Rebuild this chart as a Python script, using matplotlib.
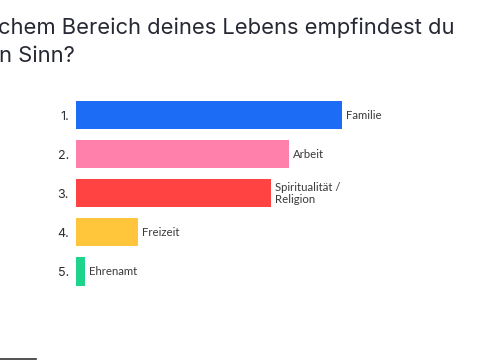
import matplotlib.pyplot as plt

# Poll results (Mentimeter style ranking)
ranks = ['1.', '2.', '3.', '4.', '5.']
answers = ['Familie', 'Arbeit', 'Spiritualität /\nReligion', 'Freizeit', 'Ehrenamt']
votes = [30, 24, 22, 7, 1]
colors = ['#1c6cf6', '#ff80aa', '#ff4242', '#ffc63c', '#1ed48c']

title_lines = ['chem Bereich deines Lebens empfindest du', 'n Sinn?']

W, H = 480, 360
fig = plt.figure(figsize=(W / 100, H / 100), dpi=100)

# axes placed in pixel terms: bars start at x=76, rows span y=95.5..291
px_per_vote = 266 / 30
ax_left, ax_right = 76, 476
ax_top, ax_bottom = 95.5, 291
ax = fig.add_axes([ax_left / W, 1 - ax_bottom / H,
                   (ax_right - ax_left) / W, (ax_bottom - ax_top) / H])

ypos = list(range(len(votes)))
ax.barh(ypos, votes, height=0.72, color=colors, align='center')
ax.set_xlim(0, (ax_right - ax_left) / px_per_vote)
ax.set_ylim(len(votes) - 0.5, -0.5)

ax.set_yticks(ypos)
ax.set_yticklabels(ranks, fontsize=9, color='#2b2b33', family='Inter')
ax.tick_params(axis='y', length=0, pad=5)
ax.set_xticks([])
for s in ax.spines.values():
    s.set_visible(False)

for y, v, lab in zip(ypos, votes, answers):
    ax.annotate(lab, xy=(v, y), xytext=(3, 0), textcoords='offset points',
                ha='left', va='center', fontsize=8.2, color='#3a3a3a',
                family='Lato', linespacing=1.1)

# title, cropped on the left like the screenshot
fig.text(-2 / W, 1 - 34 / H, title_lines[0], fontsize=15.8, color='#262833',
         family='Inter', ha='left', va='baseline')
fig.text(-1 / W, 1 - 62 / H, title_lines[1], fontsize=15.8, color='#262833',
         family='Inter', ha='left', va='baseline')

# thin dark line at the bottom-left edge
fig.add_artist(plt.Line2D([0, 36 / W], [1 - 358.8 / H] * 2, color='#333333', lw=1.2))

fig.savefig('out.png', dpi=100, facecolor='white')
